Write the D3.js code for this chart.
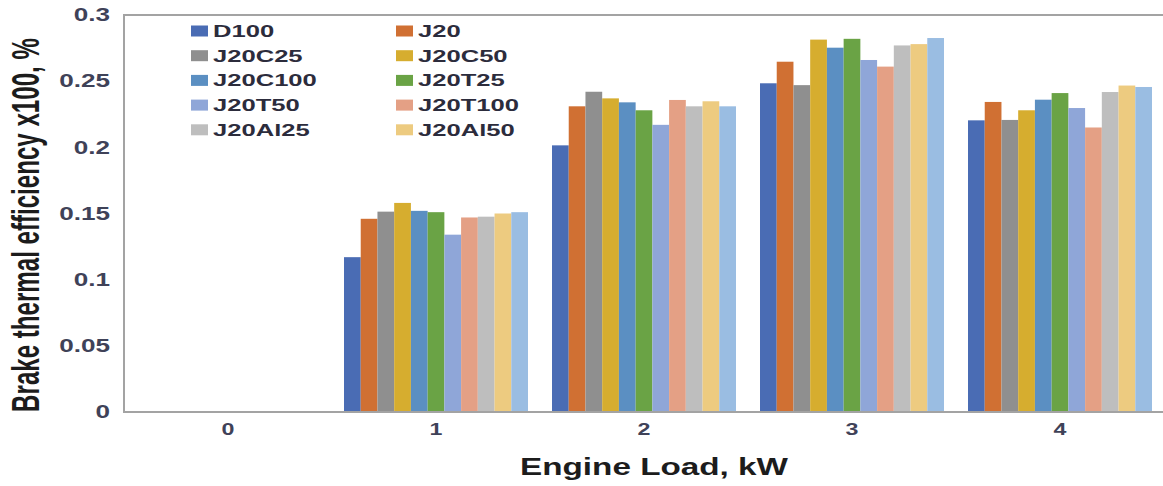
<!DOCTYPE html>
<html>
<head>
<meta charset="utf-8">
<script src="https://cdn.jsdelivr.net/npm/d3@7"></script>
<style>
  html, body { margin: 0; padding: 0; background: #ffffff; }
  svg { display: block; }
  text { font-family: "Liberation Sans", Arial, sans-serif; font-weight: bold; }
</style>
</head>
<body>
<svg id="chart" width="1163" height="486"></svg>
<script>
// Engine load groups on the x axis
const categories = ["0", "1", "2", "3", "4"];

// Brake thermal efficiency (x100, %) per fuel blend, one value per load
const D100     = [0, 0.117, 0.2015, 0.2484, 0.2204];
const J20      = [0, 0.146, 0.231, 0.2647, 0.2343];
const J20C25   = [0, 0.1514, 0.242, 0.247, 0.2207];
const J20C50   = [0, 0.158, 0.237, 0.2814, 0.228];
const J20C100  = [0, 0.152, 0.234, 0.2753, 0.236];
const J20T25   = [0, 0.151, 0.228, 0.282, 0.241];
const J20T50   = [0, 0.134, 0.217, 0.266, 0.2297];
const J20T100  = [0, 0.147, 0.2358, 0.261, 0.215];
const J20Al25  = [0, 0.1476, 0.231, 0.277, 0.2418];
const J20Al50  = [0, 0.150, 0.2348, 0.278, 0.2467];
const J20Al100 = [0, 0.151, 0.231, 0.2826, 0.2456];

const seriesNames = ["D100", "J20", "J20C25", "J20C50", "J20C100", "J20T25",
                     "J20T50", "J20T100", "J20Al25", "J20Al50", "J20Al100"];
const seriesValues = [D100, J20, J20C25, J20C50, J20C100, J20T25,
                      J20T50, J20T100, J20Al25, J20Al50, J20Al100];
const seriesColors = ["#4a6cb4", "#d07033", "#8f8f8f", "#d6ad2f", "#5b8fc2", "#6aa345",
                      "#8fa6d8", "#e4a085", "#bebebe", "#edcb80", "#9abde2"];

// Series listed in the legend box
const legendNames = seriesNames.slice(0, 10);

const yTickValues = [0, 0.05, 0.1, 0.15, 0.2, 0.25, 0.3];
const yTickLabels = ["0", "0.05", "0.1", "0.15", "0.2", "0.25", "0.3"];

const xTitle = "Engine Load, kW";
const yTitle = "Brake thermal efficiency x100, %";

const svg = d3.select("#chart");
const plot = { left: 124, right: 1164, top: 15, bottom: 412 };

// Widen a text element horizontally by a factor, keeping its anchor
function widen(sel, factor) {
  sel.each(function () {
    const len = this.getComputedTextLength();
    d3.select(this)
      .attr("textLength", len * factor)
      .attr("lengthAdjust", "spacingAndGlyphs");
  });
}

const x0 = d3.scaleBand()
  .domain(categories)
  .range([plot.left, plot.right])
  .paddingInner(0.1154)
  .paddingOuter(0.0577);

const x1 = d3.scaleBand()
  .domain(seriesNames)
  .range([0, x0.bandwidth()])
  .padding(0);

const y = d3.scaleLinear()
  .domain([0, 0.3])
  .range([plot.bottom, plot.top]);

// Bars
const groups = svg.append("g")
  .selectAll("g")
  .data(categories)
  .join("g")
  .attr("transform", d => `translate(${x0(d)},0)`);

groups.selectAll("rect")
  .data((cat, i) => seriesNames.map((name, s) => ({ name, s, value: seriesValues[s][i] })))
  .join("rect")
  .attr("x", d => x1(d.name))
  .attr("width", x1.bandwidth())
  .attr("y", d => y(d.value))
  .attr("height", d => y(0) - y(d.value))
  .attr("fill", d => seriesColors[d.s]);

// Plot frame: top edge, left axis, baseline
svg.append("line")
  .attr("x1", plot.left).attr("x2", plot.right)
  .attr("y1", y(0.3)).attr("y2", y(0.3))
  .attr("stroke", "#a3a3a3").attr("stroke-width", 2);
svg.append("line")
  .attr("x1", plot.left).attr("x2", plot.left)
  .attr("y1", y(0.3) - 1).attr("y2", y(0) + 1)
  .attr("stroke", "#a3a3a3").attr("stroke-width", 2);
svg.append("line")
  .attr("x1", plot.left).attr("x2", plot.right)
  .attr("y1", y(0)).attr("y2", y(0))
  .attr("stroke", "#a3a3a3").attr("stroke-width", 2);

// Y axis labels
const yAxis = svg.append("g")
  .attr("transform", `translate(${plot.left},0)`)
  .call(d3.axisLeft(y)
    .tickValues(yTickValues)
    .tickFormat((d, i) => yTickLabels[i])
    .tickSize(0)
    .tickPadding(14));
yAxis.select(".domain").remove();
yAxis.selectAll("text")
  .attr("font-family", "Liberation Sans, Arial, sans-serif")
  .attr("font-weight", "bold")
  .attr("font-size", 18)
  .attr("fill", "#3f4258")
  .call(widen, 1.45);

// X axis labels
const xAxis = svg.append("g")
  .attr("transform", `translate(0,${plot.bottom})`)
  .call(d3.axisBottom(x0).tickSize(0).tickPadding(12));
xAxis.select(".domain").remove();
xAxis.selectAll("text")
  .attr("font-family", "Liberation Sans, Arial, sans-serif")
  .attr("font-weight", "bold")
  .attr("font-size", 16)
  .attr("fill", "#3f4258")
  .call(widen, 1.45);

// Axis titles
svg.append("text")
  .attr("x", 654)
  .attr("y", 475)
  .attr("text-anchor", "middle")
  .attr("font-size", 24)
  .attr("fill", "#1c1c1c")
  .attr("textLength", 268)
  .attr("lengthAdjust", "spacingAndGlyphs")
  .text(xTitle);

// Vertical title: size it to span 374px, then widen the glyphs across
const yTitleEl = svg.append("text")
  .attr("x", 0)
  .attr("y", 0)
  .attr("text-anchor", "middle")
  .attr("font-size", 24)
  .attr("fill", "#1c1c1c")
  .text(yTitle);
const natural = yTitleEl.node().getComputedTextLength();
const titleSize = 24 * 374 / natural;
yTitleEl
  .attr("font-size", titleSize)
  .attr("transform", `translate(38.5,225) scale(${28 / (0.716 * titleSize)},1) rotate(-90)`);

// Legend: two columns, row-major order
const legend = svg.append("g");
const legendCols = [191, 396];
const legendRow0 = 31, legendStep = 24.7;
const items = legend.selectAll("g")
  .data(legendNames)
  .join("g")
  .attr("transform", (d, i) =>
    `translate(${legendCols[i % 2]},${legendRow0 + Math.floor(i / 2) * legendStep})`);
items.append("rect")
  .attr("x", 0).attr("y", -5.5)
  .attr("width", 17).attr("height", 11)
  .attr("fill", (d, i) => seriesColors[i]);
items.append("text")
  .attr("x", 22)
  .attr("y", 6)
  .attr("font-size", 16.5)
  .attr("fill", "#2c2c3c")
  .text(d => d)
  .call(widen, 1.55);
</script>
</body>
</html>
